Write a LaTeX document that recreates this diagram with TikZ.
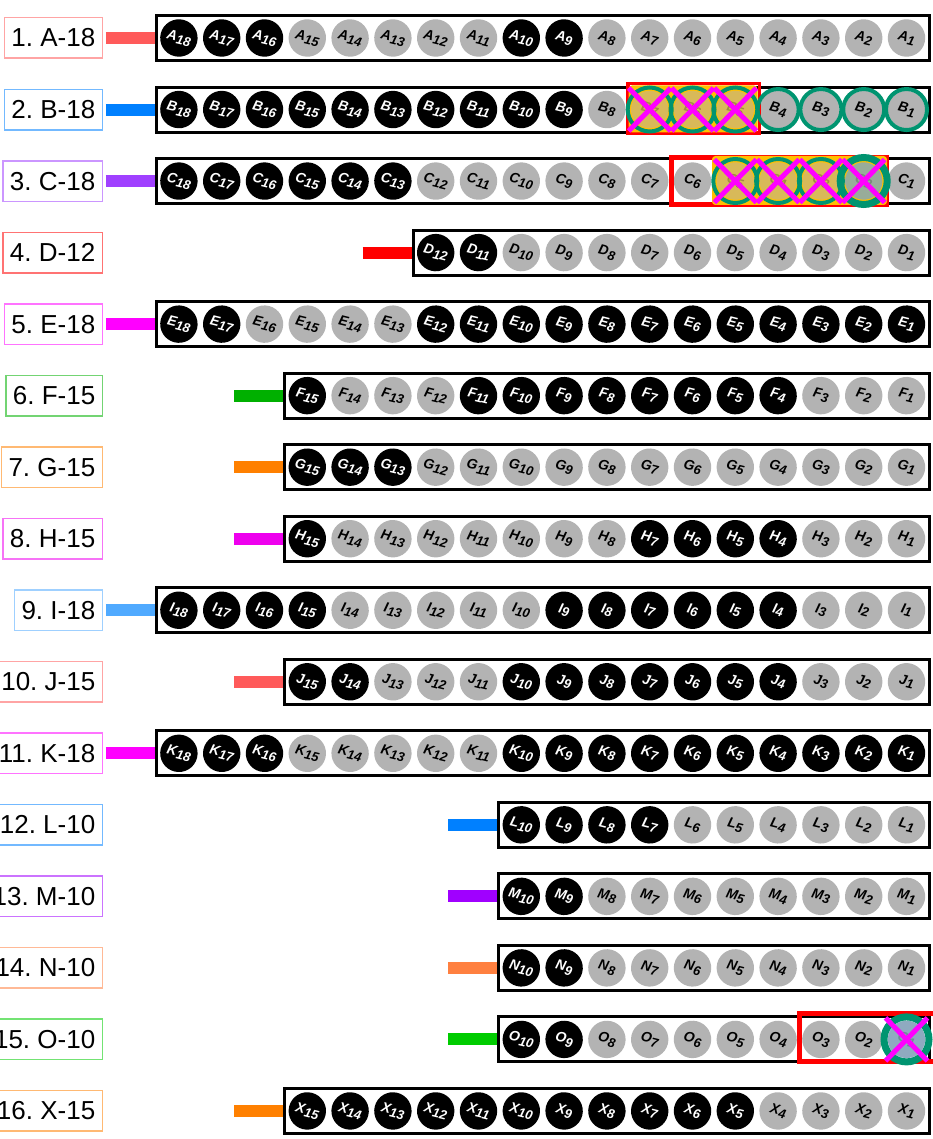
\documentclass[tikz,border=0pt]{standalone}
\usepackage{fontspec}
\setmainfont{Liberation Sans}
\frenchspacing
\definecolor{ringc}{RGB}{0,148,112}
\definecolor{grayc}{RGB}{179,179,179}
\definecolor{goldc}{RGB}{255,192,0}
\definecolor{xmag}{RGB}{255,0,255}
\definecolor{c1}{RGB}{255,90,90}
\definecolor{c2}{RGB}{0,128,255}
\definecolor{c3}{RGB}{160,64,255}
\definecolor{c4}{RGB}{255,0,0}
\definecolor{c5}{RGB}{255,0,255}
\definecolor{c6}{RGB}{0,176,0}
\definecolor{c7}{RGB}{255,128,0}
\definecolor{c8}{RGB}{238,0,238}
\definecolor{c9}{RGB}{80,170,255}
\definecolor{c10}{RGB}{255,90,90}
\definecolor{c11}{RGB}{255,0,255}
\definecolor{c12}{RGB}{0,128,255}
\definecolor{c13}{RGB}{160,0,255}
\definecolor{c14}{RGB}{255,128,64}
\definecolor{c15}{RGB}{0,204,0}
\definecolor{c16}{RGB}{255,128,0}
\newfontfamily\dotfont[BoldItalicFont={Liberation Sans Bold Italic}]{Liberation Sans}
\newcommand\dotlbl[2]{\dotfont\bfseries\itshape\fontsize{14}{14}\selectfont #1\raisebox{-3pt}{\fontsize{13}{13}\selectfont #2}}
\tikzset{
  dot/.style={circle, minimum size=37.4pt, inner sep=0pt, rotate=-14},
  blk/.style={dot, fill=black, text=white},
  gry/.style={dot, fill=grayc, text=black},
  rowbox/.style={draw=black, line width=3pt, minimum height=45pt, inner sep=0pt},
  stub/.style={line width=12pt},
  lab/.style={draw, line width=1.5pt, minimum height=40.5pt, inner xsep=7pt, inner ysep=0pt, anchor=east, font=\fontsize{26}{30}\selectfont},
  ring/.style={draw=ringc, line width=4pt},
  cross/.style={draw=xmag, line width=5pt},
  redframe/.style={draw=red, inner sep=0pt},
  goldbox/.style={fill=goldc, draw=goldc, line width=1pt, rounded corners=3pt, inner sep=0pt},
}
% #1 row no, #2 letter, #3 count, #4 colour, #5 black test, #6 skip test
\newcommand\drawrow[6]{%
  \pgfmathsetmacro\ry{38+(#1-1)*71.53}%
  \pgfmathsetmacro\bl{906.5-(#3-1)*42.8-24}%
  \pgfmathsetmacro\bw{929.5-(\bl+1.5)}%
  \pgfmathsetmacro\bc{(\bl+931)/2}%
  \node[rowbox, minimum width=\bw pt] (box#2) at (\bc,\ry) {};
  \coordinate (st#2) at ({\bl-49},\ry);
  \draw[stub, draw=#4] (st#2) -- (box#2.west);
  \node[lab, draw=#4!55] (lab#1) at (103,\ry) {#1. #2-#3};
  \foreach \k in {1,...,#3}{%
    \pgfmathtruncatemacro\isskip{(#6) ? 1 : 0}%
    \pgfmathtruncatemacro\isb{(#5) ? 1 : 0}%
    \pgfmathsetmacro\cx{906.5-(\k-1)*42.8}%
    \ifnum\isskip=0
      \ifnum\isb=1
        \node[blk] (#2\k) at (\cx,\ry) {\dotlbl{#2}{\k}};
      \else
        \node[gry] (#2\k) at (\cx,\ry) {\dotlbl{#2}{\k}};
      \fi
    \fi
  }%
}
\newcommand\xmark[1]{%
  \draw[cross] (#1) ++(-21,-21.5) -- ++(42,43);
  \draw[cross] (#1) ++(-21,21.5) -- ++(42,-43);
}
\begin{document}
\begin{tikzpicture}[x=1pt,y=-1pt]
\useasboundingbox (0,0) rectangle (933,1139);
\drawrow{1}{A}{18}{c1}{or(\k>=16, and(\k>=9,\k<=10))}{0}
\drawrow{2}{B}{18}{c2}{\k>=9}{and(\k>=5,\k<=7)}
\drawrow{3}{C}{18}{c3}{\k>=13}{and(\k>=2,\k<=5)}
\drawrow{4}{D}{12}{c4}{\k>=11}{0}
\drawrow{5}{E}{18}{c5}{or(\k>=17, \k<=12)}{0}
\drawrow{6}{F}{15}{c6}{or(\k==15, and(\k>=4,\k<=11))}{0}
\drawrow{7}{G}{15}{c7}{\k>=13}{0}
\drawrow{8}{H}{15}{c8}{or(\k==15, and(\k>=4,\k<=7))}{0}
\drawrow{9}{I}{18}{c9}{or(\k>=15, and(\k>=4,\k<=9))}{0}
\drawrow{10}{J}{15}{c10}{or(\k>=14, and(\k>=4,\k<=10))}{0}
\drawrow{11}{K}{18}{c11}{or(\k>=16, \k<=10)}{0}
\drawrow{12}{L}{10}{c12}{\k>=7}{0}
\drawrow{13}{M}{10}{c13}{\k>=9}{0}
\drawrow{14}{N}{10}{c14}{\k>=9}{0}
\drawrow{15}{O}{10}{c15}{\k>=9}{\k==1}
\drawrow{16}{X}{15}{c16}{\k>=5}{0}
% ---- overlay row B
\node[redframe, line width=3.5pt, minimum width=131.5pt, minimum height=49.5pt] (redB) at (693.5,108.5) {};
\node[goldbox, minimum width=128pt, minimum height=46pt] (goldB) at (693,109) {};
\foreach \k in {7,6,5}{%
  \pgfmathsetmacro\cx{906.5-(\k-1)*42.8}%
  \node[gry, fill opacity=0.5, text opacity=0.25] (B\k) at (\cx,109.5) {\dotlbl{B}{\k}};
}
\foreach \k in {4,3,2,1}{\draw[ring] (B\k) circle[radius=20.5pt];}
\foreach \k in {7,6,5}{\draw[ring] (B\k) circle[radius=22pt];}
\foreach \k in {7,6,5}{\xmark{B\k}}
% ---- overlay row C
\node[redframe, line width=5pt, minimum width=215pt, minimum height=47pt] (redC) at (779,181) {};
\node[goldbox, minimum width=174pt, minimum height=48pt] (goldC) at (799.5,180.5) {};
\foreach \k in {5,4,3}{%
  \pgfmathsetmacro\cx{906.5-(\k-1)*42.8}%
  \node[gry, fill opacity=0.5, text opacity=0.25] (C\k) at (\cx,181) {\dotlbl{C}{\k}};
}
\node[dot, fill={rgb,255:red,152;green,172;blue,154}, text opacity=0.2] (C2) at (863.7,181) {\dotlbl{C}{2}};
\foreach \k in {5,4,3}{\draw[ring] (C\k) circle[radius=22pt];}
\draw[ring, line width=7pt] (C2) circle[radius=23.5pt];
\foreach \k in {5,4,3,2}{\xmark{C\k}}
% ---- overlay row O
\node[redframe, line width=5pt, minimum width=140pt, minimum height=48pt] (redO) at (869.5,1037.5) {};
\node[dot, fill={rgb,255:red,143;green,170;blue,192}, text opacity=0.2] (O1) at (906.5,1039.4) {\dotlbl{O}{1}};
\draw[ring, line width=7pt] (O1) circle[radius=22.5pt];
\xmark{O1}
\end{tikzpicture}
\end{document}
